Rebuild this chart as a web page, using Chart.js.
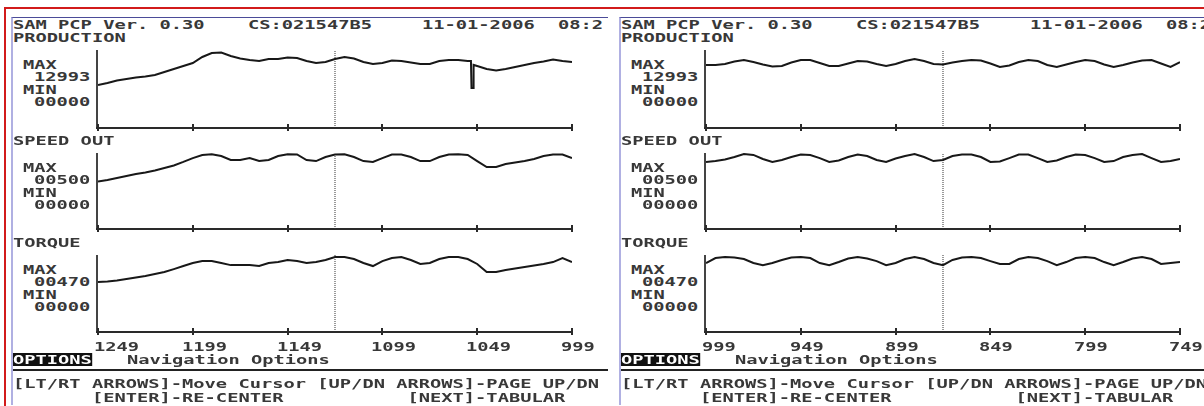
<!DOCTYPE html>
<html>
<head>
<meta charset="utf-8">
<title>SAM PCP</title>
<script src="https://cdn.jsdelivr.net/npm/chart.js@4.4.1/dist/chart.umd.min.js"></script>
<style>
  html, body { margin: 0; padding: 0; background: #fff; }
  body { width: 1204px; height: 406px; position: relative; overflow: hidden; }
  #frame { position: absolute; left: 4px; top: 7px; width: 1300px; height: 500px; border: 2px solid #d21b1b; }
  .panel { position: absolute; top: 17px; height: 387px; overflow: hidden; background: #fff;
           border-top: 1px solid #4b4b98; border-left: 2px solid #b0b0e2; }
  .t { position: absolute; font: bold 13px/13px "DejaVu Sans Mono", monospace; color: #383838;
       white-space: pre; transform: scaleX(1.44); transform-origin: 0 0; }
  .inv { background: #111; color: #fff; }
  .rule { position: absolute; height: 2px; background: #222; }
  canvas { position: absolute; }
</style>
</head>
<body>
<div id="frame"></div>
<script>
// sample numbers along x (left screen: 1249 -> 999, right screen: 999 -> 749)
const samplesA = [1249, 1244, 1239, 1234, 1229, 1224, 1219, 1214, 1209, 1204, 1199, 1194, 1189, 1184, 1179, 1174, 1169,
  1164, 1159, 1154, 1149, 1144, 1139, 1134, 1129, 1124, 1119, 1114, 1109, 1104, 1099, 1094, 1089, 1084, 1079, 1074,
  1069, 1064, 1059, 1054, 1049, 1044, 1039, 1034, 1029, 1024, 1019, 1014, 1009, 1004, 999];
const samplesB = [999, 994, 989, 984, 979, 974, 969, 964, 959, 954, 949, 944, 939, 934, 929, 924, 919,
  914, 909, 904, 899, 894, 889, 884, 879, 874, 869, 864, 859, 854, 849, 844, 839, 834, 829, 824,
  819, 814, 809, 804, 799, 794, 789, 784, 779, 774, 769, 764, 759, 754, 749];

// left screen
const prodA = [7330, 7670, 8100, 8360, 8610, 8780, 9040, 9550, 10060, 10570, 11080, 12110, 12790, 12870, 12280, 11850,
  11590, 11420, 11770, 11770, 12020, 11940, 11420, 11080, 11250, 11770, 12110, 11850, 11250, 10910, 11080, 11510,
  11420, 11170, 10910, 10910, 11420, 11590, 11590, 11420, 10570, 10060, 9800, 10060, 10400, 10740, 11080, 11340,
  11680, 11420, 11250];
// the short drop near sample 1052
const prodSpikeX = [1052.3, 1052.0, 1051.2, 1050.9];
const prodSpikeY = [11420, 6820, 6820, 10750];
const speedA = [319, 329, 342, 356, 369, 379, 393, 409, 426, 450, 476, 497, 502, 490, 463, 463, 476, 456, 463, 490,
  502, 500, 463, 456, 483, 500, 502, 483, 456, 450, 476, 500, 500, 483, 456, 456, 483, 500, 502, 497, 456, 416, 416,
  436, 446, 456, 470, 490, 500, 500, 476];
const torqueA = [312, 315, 321, 330, 340, 349, 361, 374, 392, 411, 430, 442, 442, 430, 417, 417, 417, 411, 430, 436,
  449, 442, 430, 436, 449, 467, 467, 455, 430, 411, 442, 461, 467, 449, 424, 430, 455, 467, 467, 455, 424, 374, 374,
  386, 396, 405, 414, 424, 436, 461, 436];

// right screen
const prodB = [10740, 10740, 10910, 11340, 11590, 11250, 10830, 10490, 10570, 11170, 11590, 11590, 11080, 10570, 10570,
  11000, 11420, 11340, 10910, 10570, 10910, 11420, 11770, 11420, 10910, 10830, 11170, 11420, 11590, 11510, 11000,
  10400, 10660, 11250, 11590, 11420, 10740, 10400, 10830, 11250, 11590, 11420, 10830, 10400, 10740, 11170, 11510,
  11590, 11000, 10400, 11250];
const speedB = [450, 456, 466, 483, 503, 497, 470, 450, 463, 483, 500, 497, 476, 450, 460, 483, 500, 490, 463, 450,
  473, 490, 503, 483, 456, 463, 490, 500, 500, 483, 450, 453, 476, 500, 500, 476, 450, 460, 483, 500, 497, 476, 450,
  456, 483, 497, 503, 476, 450, 456, 470];
const torqueB = [430, 461, 467, 464, 455, 430, 417, 430, 449, 464, 467, 461, 430, 417, 436, 458, 467, 458, 442, 417,
  430, 455, 467, 455, 430, 417, 449, 464, 467, 461, 442, 424, 424, 455, 467, 461, 442, 417, 436, 461, 467, 461, 436,
  417, 436, 458, 467, 455, 424, 430, 436];

const ticksA = [1249, 1199, 1149, 1099, 1049, 999];
const ticksB = [999, 949, 899, 849, 799, 749];
const tickLabelsA = ['1249', '1199', '1149', '1099', '1049', '999'];
const tickLabelsB = ['999', '949', '899', '849', '799', '749'];
const cursorA = 1124;
const cursorB = 874;

const titles = ['PRODUCTION', 'SPEED OUT', 'TORQUE'];
const maxLabels = ['12993', '00500', '00470'];
const yMax = [13300, 510, 480];

// layout (page coords of the left screen)
const rowTop = [50, 153, 255];
const rowBottom = [128, 229, 332];
const X0 = 13, Y0 = 18;      // content origin of the left screen
const AXIS_X = 98;           // y axis of every plot
const PLOT_W = 474;

// axes, tick marks and tick labels in the LCD style
const lcdAxes = {
  id: 'lcdAxes',
  afterDatasetsDraw(chart, args, opts) {
    const {ctx, chartArea: a, scales: {x}} = chart;
    ctx.save();
    ctx.fillStyle = '#444';
    ctx.fillRect(a.left - 2, a.top, 2, a.bottom - a.top + 1);
    ctx.fillStyle = '#2a2a2a';
    ctx.fillRect(a.left - 2, a.bottom - 1, a.right - a.left + 3, 2);
    ctx.font = 'bold 13px "DejaVu Sans Mono"';
    opts.ticks.forEach((t, i) => {
      const px = Math.round(x.getPixelForValue(t));
      ctx.fillRect(px - 1, a.bottom - 4, 2, 7);
      if (opts.labels) {
        ctx.save();
        ctx.translate(px - (i === 0 ? 4 : 11), a.bottom + 19);
        ctx.scale(1.44, 1);
        ctx.fillStyle = '#383838';
        ctx.fillText(opts.labels[i], 0, 0);
        ctx.restore();
      }
    });
    ctx.restore();
  }
};

function txt(panel, x, y, s, cls) {
  const d = document.createElement('div');
  d.className = 't' + (cls ? ' ' + cls : '');
  d.textContent = s;
  d.style.left = (x - X0) + 'px';
  d.style.top = (y - Y0 - 6) + 'px';
  panel.appendChild(d);
  return d;
}

function plot(panel, row, pts, cursor, lo, hi, ticks, labels) {
  const h = rowBottom[row] - rowTop[row];
  const padL = 8, padT = 4, padR = labels ? 40 : 11, padB = labels ? 24 : 8;
  const cv = document.createElement('canvas');
  cv.width = padL + PLOT_W + padR;
  cv.height = padT + h + padB;
  cv.style.left = (AXIS_X - X0 - padL) + 'px';
  cv.style.top = (rowTop[row] - Y0 - padT) + 'px';
  panel.appendChild(cv);
  new Chart(cv, {
    type: 'line',
    data: {
      datasets: [
        { data: pts, borderColor: '#181818', borderWidth: 2, pointRadius: 0, tension: 0 },
        { data: [{x: cursor, y: 0}, {x: cursor, y: yMax[row]}], borderColor: '#999',
          borderWidth: 2, borderDash: [1, 1], pointRadius: 0 }
      ]
    },
    options: {
      responsive: false,
      animation: false,
      devicePixelRatio: 1,
      layout: { padding: { left: padL, top: padT, right: padR, bottom: padB } },
      scales: {
        x: { type: 'linear', min: lo, max: hi, reverse: true, display: false },
        y: { min: 0, max: yMax[row], display: false }
      },
      plugins: {
        legend: { display: false },
        tooltip: { enabled: false },
        lcdAxes: { ticks: ticks, labels: labels }
      }
    },
    plugins: [lcdAxes]
  });
}

const toPts = (xs, ys) => xs.map((x, i) => ({x: x, y: ys[i]}));

const screens = [
  { left: 11, width: 595, lo: 999, hi: 1249, cursor: cursorA, ticks: ticksA, labels: tickLabelsA,
    series: [toPts(samplesA, prodA).concat(toPts(prodSpikeX, prodSpikeY)).sort((a, b) => b.x - a.x),
             toPts(samplesA, speedA), toPts(samplesA, torqueA)] },
  { left: 619, width: 600, lo: 749, hi: 999, cursor: cursorB, ticks: ticksB, labels: tickLabelsB,
    series: [toPts(samplesB, prodB), toPts(samplesB, speedB), toPts(samplesB, torqueB)] }
];

screens.forEach(s => {
  const p = document.createElement('div');
  p.className = 'panel';
  p.style.left = s.left + 'px';
  p.style.width = s.width + 'px';
  document.body.appendChild(p);

  txt(p, 13, 24, 'SAM PCP Ver. 0.30');
  txt(p, 248, 24, 'CS:021547B5');
  txt(p, 422, 24, '11-01-2006');
  txt(p, 558, 24, '08:2');

  for (let r = 0; r < 3; r++) {
    const top = rowTop[r];
    txt(p, 13, top - 13, titles[r]);
    txt(p, 23, top + 14, 'MAX');
    txt(p, 34, top + 26, maxLabels[r]);
    txt(p, 23, top + 39, 'MIN');
    txt(p, 34, top + 51, '00000');
    plot(p, r, s.series[r], s.cursor, s.lo, s.hi, s.ticks, r === 2 ? s.labels : null);
  }

  txt(p, 13, 359, 'OPTIONS', 'inv');
  txt(p, 127, 359, 'Navigation Options');
  const rule = document.createElement('div');
  rule.className = 'rule';
  rule.style.left = '0px';
  rule.style.top = (369 - Y0) + 'px';
  rule.style.width = s.width + 'px';
  p.appendChild(rule);
  txt(p, 13, 383, '[LT/RT ARROWS]-Move Cursor [UP/DN ARROWS]-PAGE UP/DN');
  txt(p, 13, 397, '       [ENTER]-RE-CENTER           [NEXT]-TABULAR');
});
</script>
</body>
</html>
